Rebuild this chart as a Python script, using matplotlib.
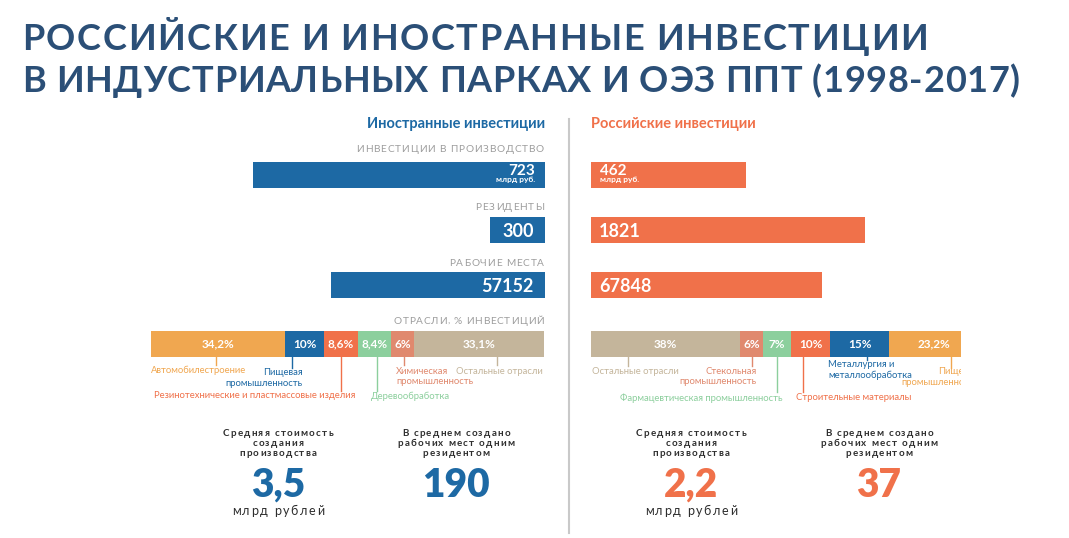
import matplotlib
matplotlib.use('Agg')
import matplotlib.pyplot as plt
from matplotlib.transforms import Affine2D
from matplotlib.lines import Line2D
from matplotlib.font_manager import FontProperties, findfont, get_font
import numpy as np

FONT = ['Lato', 'Open Sans', 'DejaVu Sans']
plt.rcParams['font.family'] = FONT

# ---- data ----
title_lines = ['РОССИЙСКИЕ И ИНОСТРАННЫЕ ИНВЕСТИЦИИ',
               'В ИНДУСТРИАЛЬНЫХ ПАРКАХ И ОЭЗ ППТ (1998-2017)']
side_titles = ['Иностранные инвестиции', 'Российские инвестиции']
metric_names = ['ИНВЕСТИЦИИ В ПРОИЗВОДСТВО', 'РЕЗИДЕНТЫ', 'РАБОЧИЕ МЕСТА']
metric_units = ['млрд руб.', '', '']
foreign_values = [723, 300, 57152]
russian_values = [462, 1821, 67848]

sector_title = 'ОТРАСЛИ, % ИНВЕСТИЦИЙ'
foreign_sectors = ['Автомобилестроение', 'Пищевая\nпромышленность',
                   'Резинотехнические и пластмассовые изделия', 'Деревообработка',
                   'Химическая\nпромышленность', 'Остальные отрасли']
foreign_shares = [34.2, 10, 8.6, 8.4, 6, 33.1]
russian_sectors = ['Остальные отрасли', 'Стекольная\nпромышленность',
                   'Фармацевтическая промышленность', 'Строительные материалы',
                   'Металлургия и\nметаллообработка', 'Пищевая\nпромышленность']
russian_shares = [38, 6, 7, 10, 15, 23.2]

stat_names = ['Средняя стоимость\nсоздания\nпроизводства',
              'В среднем создано\nрабочих мест одним\nрезидентом']
stat_unit = 'млрд рублей'
foreign_stats = [3.5, 190]
russian_stats = [2.2, 37]

# ---- style ----
W, H = 1069, 538
BLUE = '#1d69a4'
ORANGE = '#f0714a'
TITLE_C = '#2b4f77'
GREY = '#9d9d9d'
DARK = '#2e2e2e'
C_AUTO, C_FOOD, C_RUB, C_WOOD, C_CHEM, C_OTHER = (
    '#f0a750', BLUE, ORANGE, '#8ccf9d', '#e0896e', '#c4b59b')
foreign_colors = [C_AUTO, C_FOOD, C_RUB, C_WOOD, C_CHEM, C_OTHER]
russian_colors = [C_OTHER, C_CHEM, C_WOOD, C_RUB, C_FOOD, C_AUTO]

fig = plt.figure(figsize=(W / 100, H / 100), dpi=100)
fig.patch.set_facecolor('white')
# pixel coordinates, origin top-left
tp = Affine2D().scale(1 / W, -1 / H).translate(0, 1) + fig.transFigure


def box(x0, y0, x1, y1):
    return [x0 / W, 1 - y1 / H, (x1 - x0) / W, (y1 - y0) / H]


def fmt(v):
    return f'{v:g}'.replace('.', ',')


def advances(s, size, weight):
    font = get_font(findfont(FontProperties(family=FONT, weight=weight)))
    font.set_size(size, 100)
    return [font.load_char(ord(c)).linearHoriAdvance / 65536 for c in s]


def tracked(x, y, s, size, track=0.0, width=None, ha='left', weight='normal', color=DARK):
    # letter-spaced text, drawn glyph by glyph on the pen positions
    ws = advances(s, size, weight)
    if width is not None:
        track = (width - sum(ws)) / (len(s) - 1)
    total = sum(ws) + track * (len(s) - 1)
    x0 = x - total * {'left': 0, 'center': 0.5, 'right': 1}[ha]
    for ch, w in zip(s, ws):
        if ch != ' ':
            fig.text(x0, y, ch, transform=tp, fontsize=size, weight=weight,
                     color=color, ha='left', va='baseline')
        x0 += w + track


# title
tracked(22, 50, title_lines[0], 26, width=906, weight='bold', color=TITLE_C)
tracked(22, 92, title_lines[1], 26, width=998, weight='bold', color=TITLE_C)

# side headings
fig.text(545, 128, side_titles[0], transform=tp, fontsize=10.5, weight='bold',
         color=BLUE, ha='right', va='baseline')
fig.text(591, 128, side_titles[1], transform=tp, fontsize=10.5, weight='bold',
         color=ORANGE, ha='left', va='baseline')

# divider
fig.add_artist(Line2D([568.5, 568.5], [119, 533], transform=tp, color='#c9c9c9', lw=1.5))

# metric bars
bar_tops = [162, 217, 272]
foreign_xmax = [990, 2200, 107000]
russian_xmax = [1190, 2660, 117500]
name_base = [152, 210, 266]
value_base = [175, 237, 292]
for i in range(3):
    top = bar_tops[i]
    axl = fig.add_axes(box(145, top, 545, top + 26))
    axl.barh(0, foreign_values[i], height=1, color=BLUE)
    axl.set_xlim(foreign_xmax[i], 0)
    axl.set_ylim(-0.5, 0.5)
    axl.axis('off')
    axr = fig.add_axes(box(591, top, 991, top + 26))
    axr.barh(0, russian_values[i], height=1, color=ORANGE)
    axr.set_xlim(0, russian_xmax[i])
    axr.set_ylim(-0.5, 0.5)
    axr.axis('off')

    tracked(544, name_base[i], metric_names[i], 7.3, track=0.8, ha='right', color=GREY)
    if metric_units[i]:
        fig.text(535, value_base[i], str(foreign_values[i]), transform=tp, fontsize=11,
                 weight='bold', color='white', ha='right', va='baseline')
        fig.text(535, value_base[i] + 7, metric_units[i], transform=tp, fontsize=6,
                 weight='bold', color='white', ha='right', va='baseline')
        fig.text(600, value_base[i], str(russian_values[i]), transform=tp, fontsize=11,
                 weight='bold', color='white', ha='left', va='baseline')
        fig.text(600, value_base[i] + 7, metric_units[i], transform=tp, fontsize=6,
                 weight='bold', color='white', ha='left', va='baseline')
    else:
        fig.text(534, value_base[i], str(foreign_values[i]), transform=tp, fontsize=13,
                 weight='bold', color='white', ha='right', va='baseline')
        fig.text(599, value_base[i], str(russian_values[i]), transform=tp, fontsize=13,
                 weight='bold', color='white', ha='left', va='baseline')

# sector bars
tracked(544, 323.5, sector_title, 7.3, width=150, ha='right', color=GREY)

# (leader position within segment, leader end y, label x, first line y, align)
foreign_layout = [(0.485, 365, 151, 370.5, 'left'),
                  (0.19, 368, 303, 372.7, 'right'),
                  (0.5, 391, 355, 396, 'right'),
                  (0.58, 391, 371, 396, 'left'),
                  (0.58, 365, 396, 371, 'left'),
                  (0.64, 365, 543, 371, 'right')]
russian_layout = [(0.25, 366, 592, 371, 'left'),
                  (0.5, 366, 757, 371, 'right'),
                  (0.49, 392, 783, 398, 'right'),
                  (0.3, 392, 796, 398, 'left'),
                  (0.63, 360, 828, 364.5, 'left'),
                  (0.68, 368, 978, 371.5, 'right')]
LINE_STEP = 10.7

panels = [(box(151, 331, 544, 405), foreign_shares, foreign_colors, foreign_sectors,
           foreign_layout, sum(foreign_shares), False),
          (box(591, 331, 961, 405), russian_shares, russian_colors, russian_sectors,
           russian_layout, 94.4, True)]
for rect, shares, colors, names, layout, xmax, clip in panels:
    ax = fig.add_axes(rect)
    ax.set_xlim(0, xmax)
    ax.set_ylim(405, 331)
    ax.axis('off')
    left = np.concatenate([[0], np.cumsum(shares)[:-1]])
    ax.barh(344, shares, left=left, height=26, color=colors)
    for s, l, c, n, (frac, yend, tx, ty, ha) in zip(shares, left, colors, names, layout):
        ax.text(l + s / 2, 347.5, fmt(s) + '%', ha='center', va='baseline',
                fontsize=8.5, weight='bold', color='white', clip_on=clip)
        ax.plot([l + s * frac] * 2, [357, yend], color=c, lw=1, clip_on=clip)
        for k, line in enumerate(n.split('\n')):
            ax.text(tx, ty + k * LINE_STEP, line, transform=tp, ha=ha, va='center',
                    fontsize=6.8, color=c, clip_on=clip)

# bottom stats
stat_x = [[278, 456], [691, 879]]
for side, (vals, col) in enumerate([(foreign_stats, BLUE), (russian_stats, ORANGE)]):
    for j in range(2):
        cx = stat_x[side][j]
        for k, line in enumerate(stat_names[j].split('\n')):
            tracked(cx, 436.5 + 10 * k, line, 7, track=1.3, ha='center',
                    weight='bold', color=DARK)
        fig.text(cx, 497, fmt(vals[j]), transform=tp, fontsize=28, weight='heavy',
                 color=col, ha='center', va='baseline')
    tracked(stat_x[side][0], 515, stat_unit, 9, track=1.6, ha='center', color=DARK)

fig.savefig('out.png', dpi=100, facecolor='white')
